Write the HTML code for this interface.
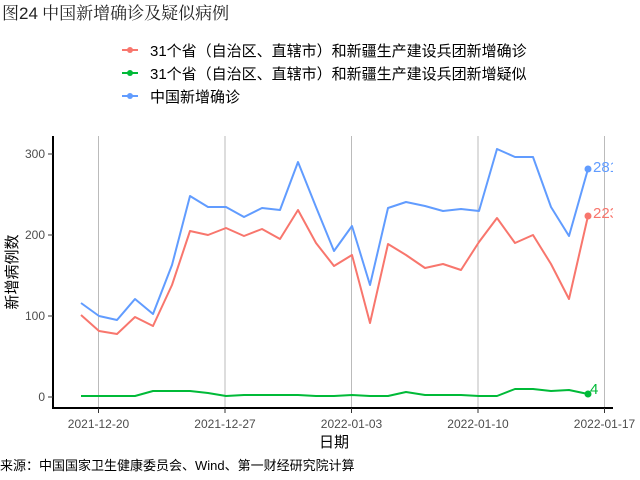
<!DOCTYPE html>
<html><head><meta charset="utf-8"><style>
body{margin:0;background:#fff;}
svg{display:block;font-family:"Liberation Sans","Noto Sans CJK SC",sans-serif;}
</style></head><body>
<svg width="640" height="480" viewBox="0 0 640 480">
<rect width="640" height="480" fill="#fff"/>
<text x="2" y="19" font-size="17" font-family="'Liberation Serif','Noto Serif CJK SC',serif" fill="#222">图<tspan font-family="'Liberation Sans',sans-serif">24</tspan> 中国新增确诊及疑似病例</text>
<g font-size="15" fill="#000">
<line x1="122" y1="50" x2="138" y2="50" stroke="#F8766D" stroke-width="2"/><circle cx="130" cy="50" r="3" fill="#F8766D"/>
<text x="150" y="56">31个省（自治区、直辖市）和新疆生产建设兵团新增确诊</text>
<line x1="122" y1="73" x2="138" y2="73" stroke="#00BA38" stroke-width="2"/><circle cx="130" cy="73" r="3" fill="#00BA38"/>
<text x="150" y="79">31个省（自治区、直辖市）和新疆生产建设兵团新增疑似</text>
<line x1="122" y1="96" x2="138" y2="96" stroke="#619CFF" stroke-width="2"/><circle cx="130" cy="96" r="3" fill="#619CFF"/>
<text x="150" y="102">中国新增确诊</text>
</g>
<g stroke="#bbb" stroke-width="1">
<line x1="98.5" y1="136" x2="98.5" y2="408"/><line x1="225" y1="136" x2="225" y2="408"/><line x1="351.5" y1="136" x2="351.5" y2="408"/><line x1="478" y1="136" x2="478" y2="408"/><line x1="604.5" y1="136" x2="604.5" y2="408"/>
</g>
<line x1="53" y1="136" x2="53" y2="409" stroke="#000" stroke-width="2"/>
<line x1="52" y1="408" x2="613" y2="408" stroke="#000" stroke-width="2"/>
<g stroke="#333"><line x1="48" y1="154" x2="53" y2="154"/><line x1="48" y1="235" x2="53" y2="235"/><line x1="48" y1="316" x2="53" y2="316"/><line x1="48" y1="397" x2="53" y2="397"/>
<line x1="98.5" y1="408" x2="98.5" y2="413"/><line x1="225" y1="408" x2="225" y2="413"/><line x1="351.5" y1="408" x2="351.5" y2="413"/><line x1="478" y1="408" x2="478" y2="413"/><line x1="604.5" y1="408" x2="604.5" y2="413"/></g>
<g font-size="12" fill="#4d4d4d" text-anchor="end"><text x="45" y="158">300</text><text x="45" y="239">200</text><text x="45" y="320">100</text><text x="45" y="401">0</text></g>
<g font-size="12" fill="#4d4d4d" text-anchor="middle"><text x="98.5" y="428">2021-12-20</text><text x="225" y="428">2021-12-27</text><text x="351.5" y="428">2022-01-03</text><text x="478" y="428">2022-01-10</text><text x="604.5" y="428">2022-01-17</text></g>
<text x="334" y="447" font-size="15" text-anchor="middle">日期</text>
<text transform="translate(17,272) rotate(-90)" font-size="15" text-anchor="middle">新增病例数</text>
<text x="0" y="470" font-size="13">来源：中国国家卫生健康委员会、Wind、第一财经研究院计算</text>
<g fill="none" stroke-width="2" stroke-linejoin="round">
<polyline stroke="#619CFF" points="81,303 99,316 117,320 135,299 153,314 172,265 190,196 208,207 226,207 244,217 262,208 280,210 298,162 316,207 334,251 352,226 370,285 388,208 406,202 425,206 443,211 461,209 479,211 497,149 515,157 533,157 551,207 569,236 588,169"/>
<polyline stroke="#F8766D" points="81,315 99,331 117,334 135,317 153,326 172,285 190,231 208,235 226,228 244,236 262,229 280,239 298,210 316,243 334,266 352,255 370,323 388,244 406,255 425,268 443,264 461,270 479,242 497,218 515,243 533,235 551,264 569,299 588,216"/>
<polyline stroke="#00BA38" points="81,396 99,396 117,396 135,396 153,391 172,391 190,391 208,393 226,396 244,395 262,395 280,395 298,395 316,396 334,396 352,395 370,396 388,396 406,392 425,395 443,395 461,395 479,396 497,396 515,389 533,389 551,391 569,390 588,394"/>
</g>
<circle cx="588" cy="169" r="3.5" fill="#619CFF"/><circle cx="588" cy="216" r="3.5" fill="#F8766D"/><circle cx="588" cy="394" r="3.5" fill="#00BA38"/>
<svg x="0" y="0" width="613" height="480" overflow="hidden">
<text x="593" y="172" font-size="15" fill="#619CFF">281</text>
<text x="593" y="218" font-size="15" fill="#F8766D">223</text>
<text x="590" y="394" font-size="15" fill="#00BA38">4</text>
</svg>
</svg>
</body></html>
